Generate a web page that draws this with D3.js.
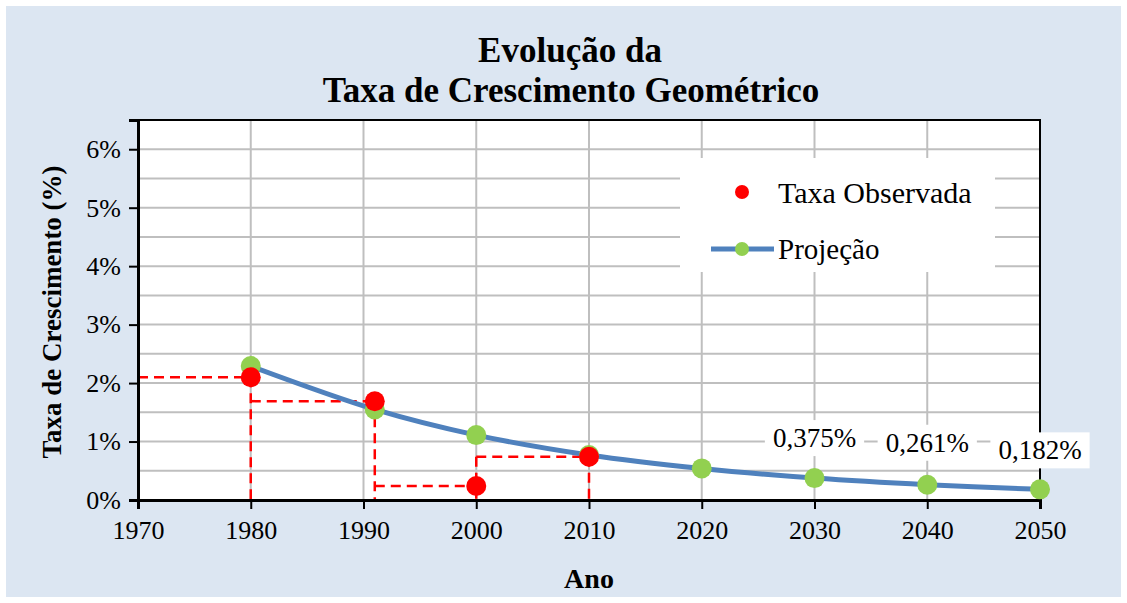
<!DOCTYPE html>
<html>
<head>
<meta charset="utf-8">
<script src="https://cdn.jsdelivr.net/npm/d3@7"></script>
<style>
  body { margin: 0; background: #fff; }
  text { font-family: "Liberation Serif", "DejaVu Serif", serif; fill: #000; }
</style>
</head>
<body>
<svg id="chart" width="1127" height="603"></svg>
<script>
// observed rates
const obsYears = [1980, 1991, 2000, 2010]
const obsRates = [2.10, 1.69, 0.24, 0.74]
// projection
const projYears = [1980, 1991, 2000, 2010, 2020, 2030, 2040, 2050]
const projRates = [2.29, 1.55, 1.11, 0.77, 0.54, 0.375, 0.261, 0.182]
// labelled projection points
const labelYears = [2030, 2040, 2050]
const labelTexts = ['0,375%', '0,261%', '0,182%']
const xTicks = [1970, 1980, 1990, 2000, 2010, 2020, 2030, 2040, 2050]
const yTicks = [0, 1, 2, 3, 4, 5, 6]

const svg = d3.select('svg#chart')

svg.append('rect')
    .attr('x', 6).attr('y', 6)
    .attr('width', 1115).attr('height', 591)
    .attr('fill', '#dce6f2')

const x = d3.scaleLinear().domain([1970, 2050]).range([138, 1040])
const y = d3.scaleLinear().domain([0, 6.5]).range([500, 120])

// plot area
svg.append('rect')
    .attr('x', x(1970)).attr('y', y(6.5))
    .attr('width', x(2050) - x(1970)).attr('height', y(0) - y(6.5))
    .attr('fill', '#fff')

// gridlines
svg.append('g').selectAll('line')
    .data(d3.range(0.5, 6.51, 0.5))
    .enter().append('line')
    .attr('x1', x(1970)).attr('x2', x(2050))
    .attr('y1', d => y(d)).attr('y2', d => y(d))
    .attr('stroke', '#bfbfbf').attr('stroke-width', 2)

svg.append('g').selectAll('line')
    .data(xTicks.slice(1))
    .enter().append('line')
    .attr('x1', d => x(d)).attr('x2', d => x(d))
    .attr('y1', y(0)).attr('y2', y(6.5))
    .attr('stroke', '#bfbfbf').attr('stroke-width', 2)

// dashed reference lines for the observed rates
let dashSegs = []
obsYears.forEach((yr, i) => {
    let prev = i == 0 ? 1970 : obsYears[i - 1]
    dashSegs.push([prev, obsRates[i], yr, obsRates[i]])
    let top = i < obsYears.length - 1 ? Math.max(obsRates[i], obsRates[i + 1]) : obsRates[i]
    dashSegs.push([yr, top, yr, 0])
})
svg.append('g').selectAll('line')
    .data(dashSegs)
    .enter().append('line')
    .attr('x1', d => x(d[0])).attr('y1', d => y(d[1]))
    .attr('x2', d => x(d[2])).attr('y2', d => y(d[3]))
    .attr('stroke', '#ff0000').attr('stroke-width', 2.5)
    .attr('stroke-dasharray', '10,6')

// frame
svg.append('rect')
    .attr('x', x(1970)).attr('y', y(6.5))
    .attr('width', x(2050) - x(1970)).attr('height', y(0) - y(6.5))
    .attr('fill', 'none').attr('stroke', '#000').attr('stroke-width', 2)

// axes
const xAxis = svg.append('g')
    .attr('transform', `translate(0,${y(0)})`)
    .call(d3.axisBottom(x).tickValues(xTicks).tickFormat(d3.format('d')).tickSize(9).tickPadding(12))
xAxis.select('.domain').attr('stroke-width', 3)
xAxis.selectAll('.tick line').attr('stroke-width', 2)
xAxis.selectAll('text').style('font-size', '26px').style('font-family', '"Liberation Serif", serif')

const yAxis = svg.append('g')
    .attr('transform', `translate(${x(1970)},0)`)
    .call(d3.axisLeft(y).tickValues(yTicks).tickFormat(d => d + '%').tickSize(9).tickPadding(8))
yAxis.select('.domain').attr('stroke-width', 3)
yAxis.selectAll('.tick line').attr('stroke-width', 2)
yAxis.selectAll('text').style('font-size', '26px').style('font-family', '"Liberation Serif", serif')

// projection line
const projData = projYears.map((yr, i) => [yr, projRates[i]])
svg.append('path')
    .datum(projData)
    .attr('d', d3.line().x(d => x(d[0])).y(d => y(d[1])).curve(d3.curveCatmullRom.alpha(0.5)))
    .attr('fill', 'none').attr('stroke', '#4f81bd').attr('stroke-width', 5)

svg.append('g').selectAll('circle')
    .data(projData)
    .enter().append('circle')
    .attr('cx', d => x(d[0])).attr('cy', d => y(d[1]))
    .attr('r', 10).attr('fill', '#92d050')

svg.append('g').selectAll('circle')
    .data(obsYears.map((yr, i) => [yr, obsRates[i]]))
    .enter().append('circle')
    .attr('cx', d => x(d[0])).attr('cy', d => y(d[1]))
    .attr('r', 10).attr('fill', '#ff0000')

// data labels
const labelOffsets = [40, 42, 39]
labelYears.forEach((yr, i) => {
    let v = projRates[projYears.indexOf(yr)]
    let g = svg.append('g')
    let t = g.append('text')
        .attr('x', x(yr)).attr('y', y(v) - labelOffsets[i])
        .attr('text-anchor', 'middle').attr('dominant-baseline', 'central')
        .style('font-size', '27px')
        .text(labelTexts[i])
    let b = t.node().getBBox()
    g.insert('rect', 'text')
        .attr('x', b.x - 8).attr('y', b.y - 3)
        .attr('width', b.width + 16).attr('height', b.height + 6)
        .attr('fill', '#fff')
})

// legend
const legend = svg.append('g')
legend.append('rect')
    .attr('x', 680).attr('y', 158).attr('width', 315).attr('height', 114)
    .attr('fill', '#fff')
legend.append('circle').attr('cx', 742).attr('cy', 192).attr('r', 7).attr('fill', '#ff0000')
legend.append('text').attr('x', 778).attr('y', 192).attr('dominant-baseline', 'central')
    .style('font-size', '30px').text('Taxa Observada')
legend.append('line').attr('x1', 711).attr('x2', 774).attr('y1', 249).attr('y2', 249)
    .attr('stroke', '#4f81bd').attr('stroke-width', 5)
legend.append('circle').attr('cx', 742).attr('cy', 249).attr('r', 7).attr('fill', '#92d050')
legend.append('text').attr('x', 778).attr('y', 249).attr('dominant-baseline', 'central')
    .style('font-size', '29px').text('Projeção')

// titles
svg.append('text').attr('x', 570).attr('y', 50).attr('text-anchor', 'middle')
    .attr('dominant-baseline', 'central')
    .style('font-size', '35px').style('font-weight', 'bold').text('Evolução da')
svg.append('text').attr('x', 571).attr('y', 90).attr('text-anchor', 'middle')
    .attr('dominant-baseline', 'central')
    .style('font-size', '35px').style('font-weight', 'bold').text('Taxa de Crescimento Geométrico')
svg.append('text').attr('x', 589).attr('y', 578).attr('text-anchor', 'middle')
    .attr('dominant-baseline', 'central')
    .style('font-size', '28px').style('font-weight', 'bold').text('Ano')
svg.append('text').attr('transform', 'translate(52,312) rotate(-90)')
    .attr('text-anchor', 'middle').attr('dominant-baseline', 'central')
    .style('font-size', '27px').style('font-weight', 'bold').text('Taxa de Crescimento (%)')
</script>
</body>
</html>
